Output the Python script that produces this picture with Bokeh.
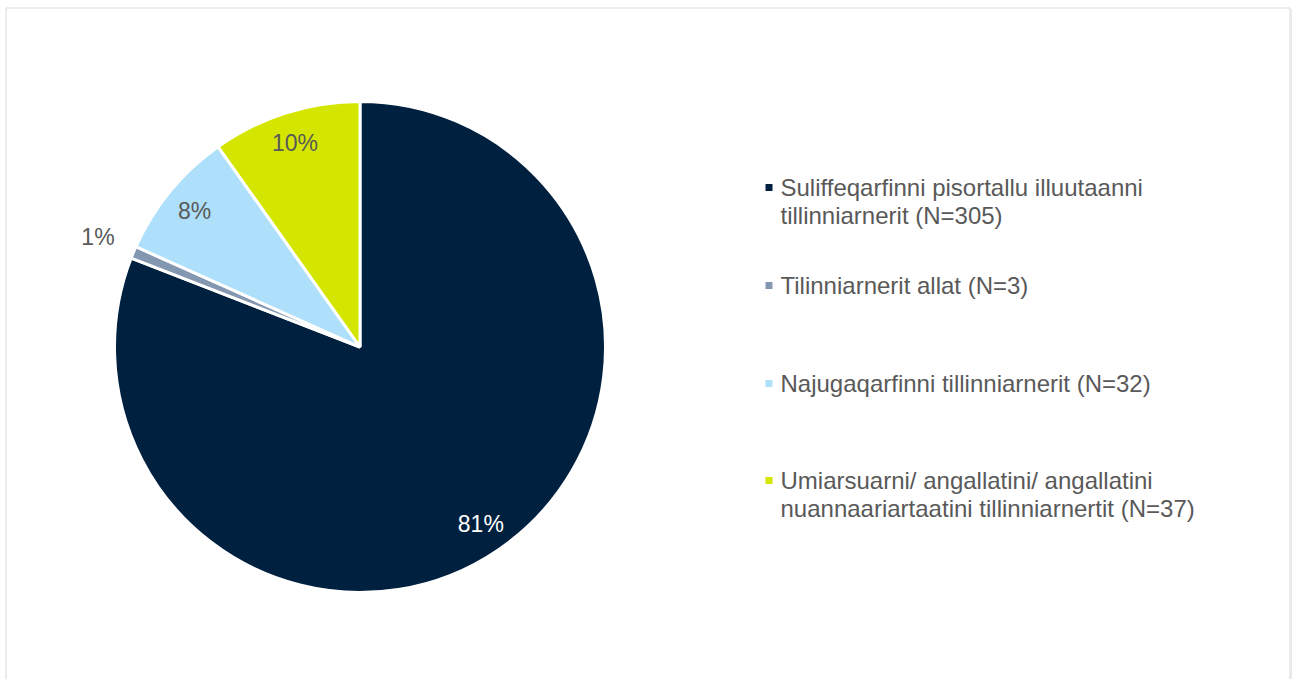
import math
from bokeh.plotting import figure
from bokeh.models import Range1d, ColumnDataSource
from bokeh.core.properties import value
from bokeh.embed import file_html
from bokeh.resources import INLINE

# ---- data ----
categories = [
    "Suliffeqarfinni pisortallu illuutaanni\ntillinniarnerit  (N=305)",
    "Tilinniarnerit allat (N=3)",
    "Najugaqarfinni tillinniarnerit (N=32)",
    "Umiarsuarni/ angallatini/ angallatini\nnuannaariartaatini tillinniarnertit (N=37)",
]
counts = [305, 3, 32, 37]
pct_labels = ["81%", "1%", "8%", "10%"]
colors = ["#00203F", "#8497B0", "#AEE0FB", "#D4E600"]

W, H = 1292, 679
FONT = "Liberation Sans"
TXT = "#595959"

p = figure(width=W, height=H, output_backend="svg", toolbar_location=None,
           x_range=Range1d(0, W), y_range=Range1d(-H, 0),
           min_border=0, outline_line_color=None)
p.axis.visible = False
p.grid.visible = False
p.background_fill_color = "white"
p.border_fill_color = "white"

# frame border (box continues below the window)
p.multi_line(xs=[[5.5, 5.5, 1289.5, 1289.5], [1291, 1291]],
             ys=[[-690, -7.5, -7.5, -690], [-9, -690]],
             line_color=["#D9D9D9", "#E8E8E8"], line_width=[1, 2])

# ---- pie ----
cx, cy, R = 359.5, -346.5, 245.5
total = float(sum(counts))
fr = [c / total for c in counts]
cum = [0.0]
for f in fr:
    cum.append(cum[-1] + f)
start = [math.pi / 2 - 2 * math.pi * cum[i] for i in range(len(counts))]
end = [math.pi / 2 - 2 * math.pi * cum[i + 1] for i in range(len(counts))]
src = ColumnDataSource(dict(start=start, end=end, color=colors))
p.wedge(x=cx, y=cy, radius=R, start_angle="start", end_angle="end",
        direction="clock", fill_color="color", line_color="white",
        line_width=3, source=src)

# data labels
lx, ly, lc = [], [], []
for i, f in enumerate(fr):
    mid = 2 * math.pi * (cum[i] + f / 2)
    r = 214 if f > 0.03 else 284
    lx.append(cx + r * math.sin(mid))
    ly.append(cy + r * math.cos(mid))
    lc.append("white" if i == 0 else TXT)
p.text(x=lx, y=ly, text=pct_labels, text_color=lc, text_align="center",
       text_baseline="middle", text_font=value(FONT), text_font_size="23px")

# ---- legend ----
leg_y = [-187, -285, -383, -480]
LINE = 28
p.scatter(x=[768.5] * 4, y=leg_y, marker="square", size=7, fill_color=colors,
          line_color=None)
tx, ty, tt = [], [], []
for cat, y0 in zip(categories, leg_y):
    for k, line in enumerate(cat.split("\n")):
        tx.append(780)
        ty.append(y0 - k * LINE)
        tt.append(line)
p.text(x=tx, y=ty, text=tt, text_color=TXT,
       text_align="left", text_baseline="middle", text_font=value(FONT),
       text_font_size="24px")

open("out.html", "w").write(file_html(p, INLINE))
